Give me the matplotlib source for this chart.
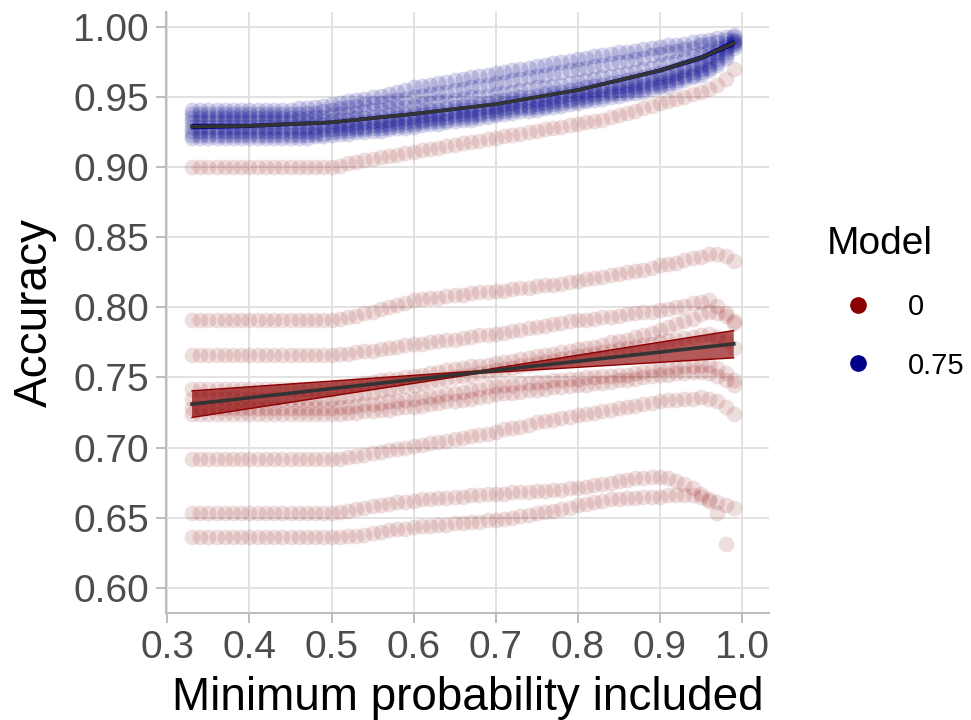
"""
Accuracy vs. minimum probability included, two models (0 and 0.75).
Points per run, plus fitted trend with confidence band per model.
"""

import numpy as np
import matplotlib
matplotlib.use("Agg")
import matplotlib.pyplot as plt
from matplotlib.lines import Line2D

plt.rcParams["font.family"] = ["Liberation Sans", "DejaVu Sans"]

# ─────────────────────────────────────────────
# DATA  (accuracy in thousandths)
# ─────────────────────────────────────────────
min_prob = [
    0.33, 0.34, 0.35, 0.36, 0.37, 0.38, 0.39, 0.40, 0.41, 0.42, 0.43, 0.44,
    0.45, 0.46, 0.47, 0.48, 0.49, 0.50, 0.51, 0.52, 0.53, 0.54, 0.55, 0.56,
    0.57, 0.58, 0.59, 0.60, 0.61, 0.62, 0.63, 0.64, 0.65, 0.66, 0.67, 0.68,
    0.69, 0.70, 0.71, 0.72, 0.73, 0.74, 0.75, 0.76, 0.77, 0.78, 0.79, 0.80,
    0.81, 0.82, 0.83, 0.84, 0.85, 0.86, 0.87, 0.88, 0.89, 0.90, 0.91, 0.92,
    0.93, 0.94, 0.95, 0.96, 0.97, 0.98, 0.99,
]

# model 0 runs
red_a = [
    900, 900, 900, 900, 900, 900, 900, 900, 900, 900, 900, 900, 900, 900, 900, 900, 900, 900,
    901, 903, 904, 905, 906, 907, 908, 909, 910, 911,
    912, 913, 914, 915, 916, 917, 918, 919, 920, 921,
    922, 923, 924, 925, 926, 927, 928, 929, 930, 931,
    932, 933, 934, 936, 937, 939, 940, 942, 944, 946,
    947, 949, 950, 952, 954, 956, 959, 963, 970,
]
red_b = [
    791, 791, 791, 791, 791, 791, 791, 791, 791, 791, 791, 791, 791, 791, 791, 791, 791, 791,
    792, 793, 794, 796, 797, 799, 800, 802, 803, 805,
    806, 807, 807, 808, 809, 809, 810, 811, 811, 812,
    812, 813, 814, 814, 815, 816, 816, 817, 818, 819,
    820, 821, 822, 823, 824, 825, 826, 827, 828, 830,
    831, 832, 834, 835, 836, 838, 838, 837, 833,
]
red_c = [
    766, 766, 766, 766, 766, 766, 766, 766, 766, 766, 766, 766, 766, 766, 766, 766, 766, 766,
    767, 767, 768, 769, 769, 770, 771, 772, 773, 774,
    774, 775, 776, 777, 777, 778, 779, 780, 780, 781,
    782, 783, 784, 785, 786, 787, 788, 789, 790, 791,
    791, 792, 793, 793, 794, 795, 796, 797, 797, 798,
    799, 800, 801, 803, 804, 805, 801, 796, 789,
]
red_e1 = [
    742, 742, 742, 742, 742, 742, 742, 742, 742, 742, 742, 742, 742, 742, 742, 742, 742, 742,
    743, 744, 745, 746, 747, 748, 749, 749, 750, 751,
    752, 753, 754, 755, 756, 757, 758, 758, 759, 760,
    761, 762, 763, 764, 765, 766, 767, 768, 769, 770,
    771, 772, 773, 775, 776, 777, 779, 780, 782, 784,
    786, 788, 790, 792, 795, 797, 796, 794, 790,
]
red_e2 = [
    735, 735, 735, 735, 735, 735, 735, 735, 735, 735, 735, 735, 735, 735, 735, 735, 735, 735,
    736, 737, 738, 739, 740, 741, 742, 743, 744, 745,
    746, 747, 748, 749, 750, 751, 752, 753, 754, 755,
    756, 757, 758, 759, 760, 761, 762, 763, 764, 765,
    766, 767, 768, 769, 770, 771, 772, 773, 774, 775,
    776, 777, 778, 779, 780, 781, 779, 776, 771,
]
red_e3 = [
    728, 728, 728, 728, 728, 728, 728, 728, 728, 728, 728, 728, 728, 728, 728, 728, 728, 728,
    729, 729, 730, 731, 731, 732, 733, 733, 734, 735,
    736, 736, 737, 738, 739, 740, 741, 742, 743, 744,
    745, 745, 746, 746, 747, 747, 748, 748, 749, 749,
    750, 750, 751, 751, 752, 752, 753, 754, 755, 756,
    757, 757, 758, 758, 759, 759, 757, 753, 748,
]
red_e4 = [
    724, 724, 724, 724, 724, 724, 724, 724, 724, 724, 724, 724, 724, 724, 724, 724, 724, 724,
    724, 725, 725, 726, 726, 727, 727, 728, 729, 729,
    730, 731, 732, 733, 733, 734, 735, 736, 737, 738,
    739, 739, 740, 741, 741, 742, 743, 743, 744, 745,
    745, 746, 746, 747, 748, 748, 749, 750, 751, 752,
    752, 753, 753, 754, 754, 753, 751, 748, 745,
]
red_d = [
    692, 692, 692, 692, 692, 692, 692, 692, 692, 692, 692, 692, 692, 692, 692, 692, 692, 692,
    692, 693, 694, 695, 696, 697, 698, 699, 700, 701,
    702, 703, 704, 705, 706, 707, 708, 709, 710, 711,
    713, 714, 715, 716, 718, 719, 720, 721, 722, 723,
    724, 725, 726, 727, 728, 729, 730, 731, 732, 733,
    734, 734, 735, 735, 736, 735, 733, 729, 724,
]
red_f = [
    653, 653, 653, 653, 653, 653, 653, 653, 653, 653, 653, 653, 653, 653, 653, 653, 653, 653,
    654, 655, 656, 657, 658, 659, 660, 661, 661, 662,
    663, 663, 664, 664, 665, 665, 666, 666, 667, 667,
    667, 668, 668, 668, 669, 669, 670, 670, 671, 671,
    672, 673, 674, 675, 676, 677, 678, 678, 679, 679,
    678, 676, 674, 671, 667, 662, 653, 631, np.nan,
]
red_g = [
    636, 636, 636, 636, 636, 636, 636, 636, 636, 636, 636, 636, 636, 636, 636, 636, 636, 636,
    636, 637, 637, 638, 639, 640, 641, 642, 642, 643,
    644, 644, 645, 645, 646, 646, 647, 647, 648, 648,
    649, 650, 651, 652, 653, 654, 655, 656, 657, 659,
    660, 661, 662, 663, 663, 664, 664, 665, 665, 665,
    666, 666, 666, 666, 665, 663, 661, 659, 657,
]

# model 0.75 runs
blue_1 = [
    941, 941, 941, 941, 941, 941, 941, 941, 941, 941, 941, 941, 941, 942, 942, 943, 944, 945,
    946, 947, 948, 949, 950, 951, 952, 954, 955, 957,
    958, 959, 960, 961, 962, 963, 964, 965, 966, 967,
    968, 969, 970, 971, 972, 973, 974, 975, 976, 977,
    978, 979, 980, 981, 982, 982, 983, 984, 985, 986,
    987, 987, 988, 989, 990, 991, 992, 993, 994,
]
blue_2 = [
    938, 938, 938, 938, 938, 938, 938, 938, 938, 938, 938, 938, 938, 938, 939, 939, 940, 941,
    942, 943, 944, 945, 946, 946, 947, 948, 949, 950,
    951, 952, 953, 954, 955, 956, 957, 958, 959, 960,
    961, 962, 963, 964, 965, 966, 967, 968, 969, 970,
    971, 972, 973, 974, 975, 976, 977, 978, 980, 981,
    982, 983, 984, 985, 987, 988, 989, 991, 993,
]
blue_3 = [
    935, 935, 935, 935, 935, 935, 935, 935, 935, 935, 935, 935, 935, 935, 935, 936, 936, 937,
    938, 938, 939, 940, 941, 941, 942, 943, 943, 944,
    945, 946, 947, 947, 948, 949, 950, 950, 951, 952,
    953, 954, 955, 956, 957, 957, 958, 959, 960, 961,
    962, 963, 964, 965, 966, 967, 968, 970, 971, 973,
    974, 976, 977, 979, 981, 983, 985, 988, 991,
]
blue_4 = [
    932, 932, 932, 932, 932, 932, 932, 932, 932, 932, 932, 932, 932, 932, 932, 932, 933, 933,
    934, 934, 935, 935, 936, 936, 937, 938, 938, 939,
    940, 941, 941, 942, 943, 944, 944, 945, 946, 947,
    948, 949, 950, 950, 951, 952, 953, 954, 955, 956,
    957, 958, 959, 960, 961, 962, 963, 964, 966, 967,
    968, 970, 972, 974, 976, 979, 982, 986, 990,
]
blue_5 = [
    929, 929, 929, 929, 929, 929, 929, 929, 929, 929, 929, 929, 929, 929, 929, 929, 930, 930,
    931, 931, 932, 932, 933, 933, 934, 935, 935, 936,
    937, 938, 938, 939, 940, 941, 941, 942, 943, 944,
    945, 946, 947, 947, 948, 949, 950, 951, 952, 953,
    954, 955, 956, 957, 958, 959, 960, 961, 963, 964,
    965, 967, 969, 971, 973, 976, 980, 984, 989,
]
blue_6 = [
    926, 926, 926, 926, 926, 926, 926, 926, 926, 926, 926, 926, 926, 926, 926, 926, 927, 927,
    928, 928, 929, 929, 930, 930, 931, 932, 932, 933,
    934, 935, 935, 936, 937, 938, 938, 939, 940, 941,
    942, 943, 944, 944, 945, 946, 947, 948, 949, 950,
    951, 952, 953, 954, 955, 956, 957, 958, 960, 961,
    962, 964, 966, 968, 970, 973, 977, 982, 988,
]
blue_7 = [
    923, 923, 923, 923, 923, 923, 923, 923, 923, 923, 923, 923, 923, 923, 923, 924, 924, 925,
    926, 926, 927, 927, 928, 928, 929, 930, 930, 931,
    932, 933, 933, 934, 935, 936, 936, 937, 938, 939,
    940, 941, 942, 942, 943, 944, 945, 946, 947, 948,
    949, 950, 951, 952, 953, 954, 955, 956, 958, 959,
    960, 962, 964, 966, 968, 971, 975, 980, 987,
]
blue_8 = [
    921, 921, 921, 921, 921, 921, 921, 921, 921, 921, 921, 921, 921, 921, 921, 922, 922, 923,
    924, 924, 925, 925, 926, 926, 927, 928, 928, 929,
    930, 931, 931, 932, 933, 934, 934, 935, 936, 937,
    938, 939, 940, 940, 941, 942, 943, 944, 945, 946,
    947, 948, 949, 950, 951, 952, 953, 954, 956, 957,
    958, 960, 962, 964, 966, 969, 973, 978, 985,
]

red_runs = [red_a, red_b, red_c, red_e1, red_e2, red_e3, red_e4, red_d, red_f, red_g]
blue_runs = [blue_1, blue_2, blue_3, blue_4, blue_5, blue_6, blue_7, blue_8]

# fitted trends + confidence band
red_fit_x = [0.33, 0.68, 0.99]
red_fit_y = [0.731, 0.7538, 0.774]
red_fit_lo = [0.7215, 0.7530, 0.7640]
red_fit_hi = [0.7405, 0.7548, 0.7835]

blue_fit_x = [0.33, 0.40, 0.50, 0.60, 0.70, 0.80, 0.90, 0.95, 0.99]
blue_fit_y = [0.929, 0.9295, 0.932, 0.938, 0.945, 0.955, 0.969, 0.978, 0.9885]
blue_fit_lo = [0.9275, 0.9285, 0.9312, 0.9372, 0.9443, 0.9542, 0.9680, 0.9767, 0.9868]
blue_fit_hi = [0.9305, 0.9305, 0.9328, 0.9388, 0.9457, 0.9558, 0.9700, 0.9793, 0.9902]

x_ticks = [0.3, 0.4, 0.5, 0.6, 0.7, 0.8, 0.9, 1.0]
y_ticks = [0.60, 0.65, 0.70, 0.75, 0.80, 0.85, 0.90, 0.95, 1.00]
model_labels = ["0", "0.75"]

RED = "#8B0000"
BLUE = "#00008B"
GRID = "#E2E2E2"
AXIS = "#BDBDBD"

# ─────────────────────────────────────────────
# PLOT
# ─────────────────────────────────────────────
fig = plt.figure(figsize=(9.71, 7.2), dpi=100)
ax = fig.add_axes([0.1707, 0.1486, 0.6213, 0.8347])

x = np.array(min_prob)
for run in red_runs:
    ax.scatter(x, np.array(run, dtype=float) / 1000, s=130, color=RED,
               alpha=0.13, linewidths=0, zorder=2)
for run in blue_runs:
    ax.scatter(x, np.array(run, dtype=float) / 1000, s=130, color=BLUE,
               alpha=0.16, linewidths=0, zorder=2)

# smooths: band, then line
ax.fill_between(red_fit_x, red_fit_lo, red_fit_hi, facecolor=RED, alpha=0.65,
                edgecolor="none", zorder=3)
ax.plot(red_fit_x, red_fit_lo, color=RED, lw=1.0, zorder=3)
ax.plot(red_fit_x, red_fit_hi, color=RED, lw=1.0, zorder=3)
ax.plot(red_fit_x, red_fit_y, color="#333333", lw=2.6, zorder=4)

ax.fill_between(blue_fit_x, blue_fit_lo, blue_fit_hi, facecolor=BLUE, alpha=0.7,
                edgecolor="none", zorder=3)
ax.plot(blue_fit_x, blue_fit_lo, color=BLUE, lw=1.0, zorder=3)
ax.plot(blue_fit_x, blue_fit_hi, color=BLUE, lw=1.0, zorder=3)
ax.plot(blue_fit_x, blue_fit_y, color="#333333", lw=2.6, zorder=4)

ax.set_xlim(0.298, 1.033)
ax.set_ylim(0.582, 1.0107)
ax.set_xticks(x_ticks)
ax.set_xticklabels([f"{t:.1f}" for t in x_ticks])
ax.set_yticks(y_ticks)
ax.set_yticklabels([f"{t:.2f}" for t in y_ticks])

ax.set_axisbelow(True)
ax.grid(True, color=GRID, lw=1.4)
for side in ["top", "right"]:
    ax.spines[side].set_visible(False)
for side in ["left", "bottom"]:
    ax.spines[side].set_color(AXIS)
    ax.spines[side].set_linewidth(1.5)
ax.tick_params(length=7, width=1.4, color=AXIS, labelcolor="#4D4D4D",
               labelsize=28, pad=5)

ax.set_xlabel("Minimum probability included", fontsize=33)
ax.set_ylabel("Accuracy", fontsize=33)
ax.xaxis.set_label_coords(0.5, -0.105)
ax.yaxis.set_label_coords(-0.18, 0.5)

handles = [
    Line2D([], [], marker="o", linestyle="none", markersize=11, color=RED),
    Line2D([], [], marker="o", linestyle="none", markersize=11, color=BLUE),
]
fig.legend(handles, model_labels, title="Model", loc="upper left",
           bbox_to_anchor=(0.836, 0.706), frameon=False, fontsize=21,
           title_fontsize=28, alignment="left", borderpad=0,
           handlelength=2.2, handletextpad=0.58, labelspacing=1.05)

fig.savefig("out.png", dpi=100)
